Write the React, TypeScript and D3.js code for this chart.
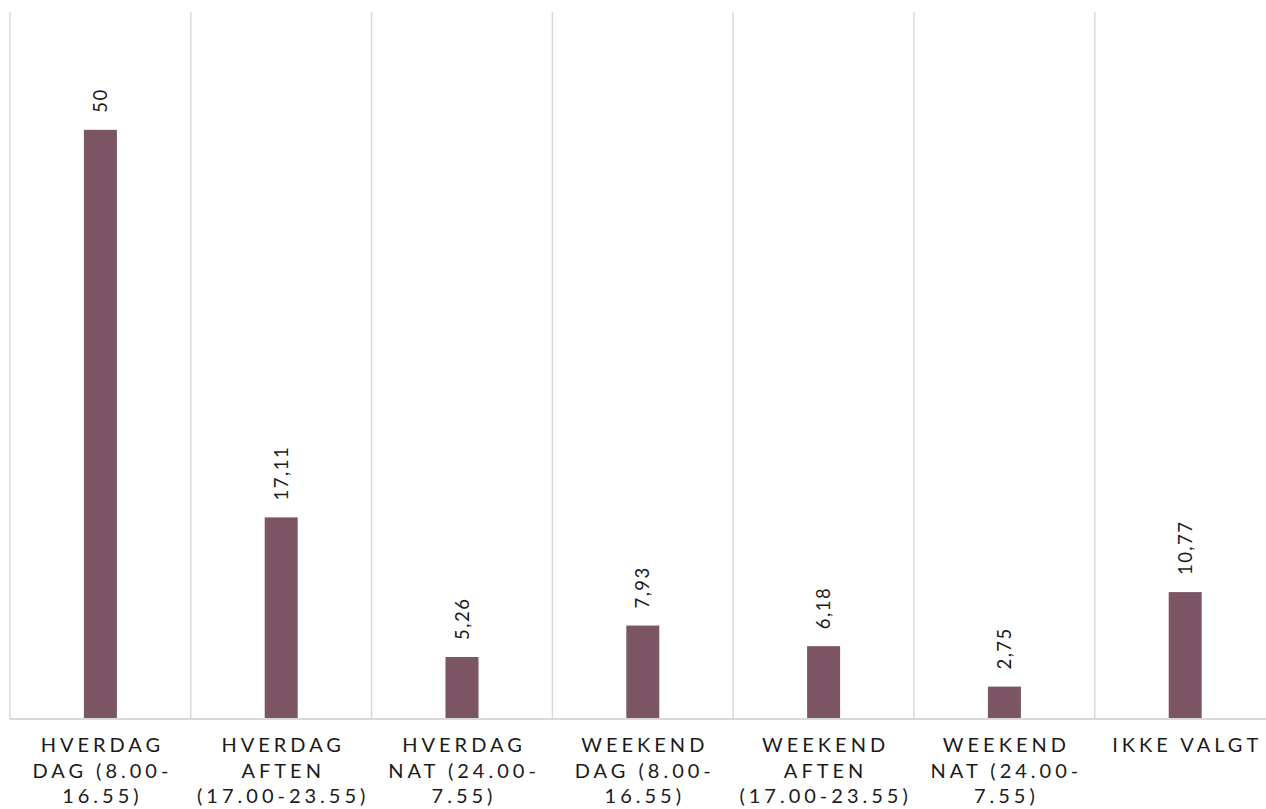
import React from "react";
import * as d3 from "d3";

const categories = [
  "HVERDAG\nDAG (8.00-\n16.55)",
  "HVERDAG\nAFTEN\n(17.00-23.55)",
  "HVERDAG\nNAT (24.00-\n7.55)",
  "WEEKEND\nDAG (8.00-\n16.55)",
  "WEEKEND\nAFTEN\n(17.00-23.55)",
  "WEEKEND\nNAT (24.00-\n7.55)",
  "IKKE VALGT",
];
const values = [50, 17.11, 5.26, 7.93, 6.18, 2.75, 10.77];
const valueLabels = ["50", "17,11", "5,26", "7,93", "6,18", "2,75", "10,77"];

const W = 1266;
const H = 809;
const left = 10;
const bandW = 180.8;
const baseY = 719;
const topY = 12;
const barColor = "#7B5563";
const gridColor = "#D9D9D9";

export default function App() {
  const x = d3
    .scaleBand<number>()
    .domain(d3.range(categories.length))
    .range([left, left + bandW * categories.length])
    .paddingInner(0)
    .paddingOuter(0);
  const y = d3.scaleLinear().domain([0, 60]).range([baseY, topY]);
  const barW = 33;
  const font = "Lato, 'Noto Sans', sans-serif";

  return (
    <svg
      width={W}
      height={H}
      style={{ position: "absolute", left: 0, top: 0, background: "#fff" }}
    >
      {d3.range(categories.length + 1).map((i) => {
        const gx = left + bandW * i;
        return (
          <line
            key={"g" + i}
            x1={gx}
            x2={gx}
            y1={topY}
            y2={baseY}
            stroke={gridColor}
            strokeWidth={1.5}
          />
        );
      })}
      {values.map((v, i) => {
        const cx = (x(i) as number) + x.bandwidth() / 2;
        return (
          <g key={"b" + i}>
            <rect
              x={cx - barW / 2}
              y={y(v)}
              width={barW}
              height={baseY - y(v)}
              fill={barColor}
            />
            <text
              transform={`translate(${cx + 6.5},${y(v) - 17}) rotate(-90)`}
              fontFamily={font}
              fontSize={18.5}
              fill="#1a1a1a"
              textAnchor="start"
              style={{ letterSpacing: "1.5px" }}
            >
              {valueLabels[i]}
            </text>
          </g>
        );
      })}
      <line
        x1={left}
        x2={W}
        y1={baseY}
        y2={baseY}
        stroke={gridColor}
        strokeWidth={2}
      />
      {categories.map((c, i) => {
        const cx = (x(i) as number) + x.bandwidth() / 2;
        return (
          <text
            key={"c" + i}
            fontFamily={font}
            fontSize={20}
            fill="#1a1a1a"
            textAnchor="middle"
            style={{ letterSpacing: "4px" }}
          >
            {c.split("\n").map((line, j) => (
              <tspan key={j} x={cx + 2} y={752 + j * 25.5}>
                {line}
              </tspan>
            ))}
          </text>
        );
      })}
    </svg>
  );
}
